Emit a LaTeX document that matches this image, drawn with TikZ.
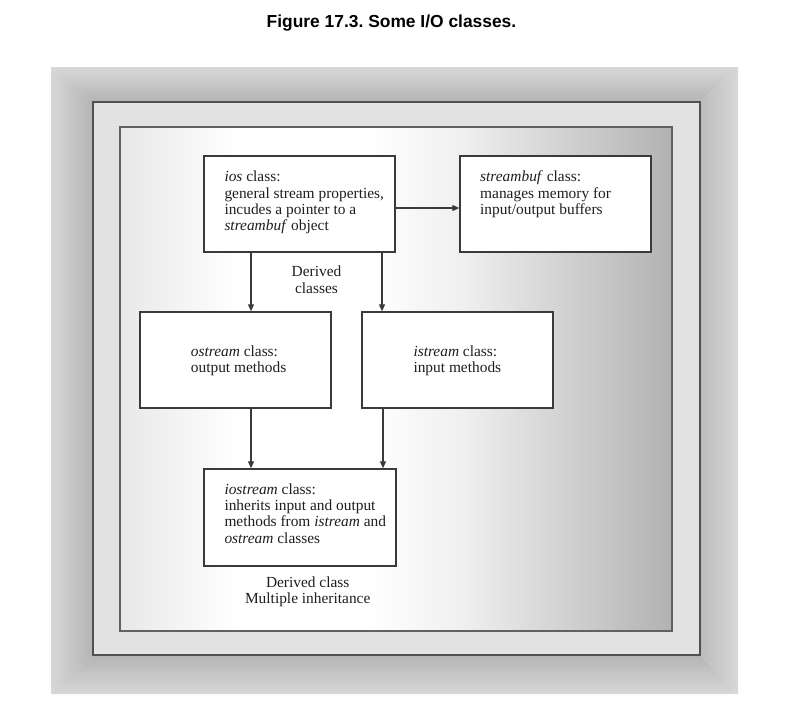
\documentclass[tikz,border=0pt]{standalone}
\usepackage{fontspec}
\setmainfont{Liberation Serif}
\newfontfamily\titlefont{Liberation Sans}
\usetikzlibrary{arrows.meta}
\frenchspacing
\definecolor{bandlight}{HTML}{D8D8D8}
\definecolor{banddark}{HTML}{B4B4B4}
\definecolor{midpanel}{HTML}{E2E2E2}
\definecolor{panelleft}{HTML}{E8E8E8}
\definecolor{panelright}{HTML}{B2B2B2}
\definecolor{edgegrey}{HTML}{505050}
\definecolor{boxline}{HTML}{3A3A3A}
\definecolor{inktext}{HTML}{1E1E1E}
\pgfdeclarehorizontalshading{panelshade}{100bp}{color(0bp)=(panelleft); color(25bp)=(panelleft); color(35.5bp)=(white); color(47.5bp)=(white); color(56bp)=(white!80!panelright); color(75bp)=(panelright); color(100bp)=(panelright)}
\tikzset{
  classbox/.style={draw=boxline, line width=1.4pt, fill=white, minimum width=191pt, minimum height=96pt, inner sep=0pt},
  boxtext/.style={anchor=base west, inner sep=0pt, align=left, text=inktext, font=\fontsize{15.4}{16.4}\selectfont},
  ctext/.style={anchor=base, inner sep=0pt, align=center, text=inktext, font=\fontsize{15.4}{16.6}\selectfont},
  arr/.style={draw=boxline, line width=1.1pt, -{Triangle[length=7pt,width=6pt]}}
}
\begin{document}
\begin{tikzpicture}[x=1pt,y=-1pt]
\useasboundingbox (0,0) rectangle (785,710);
\fill[white] (0,0) rectangle (785,710);
% title
\node[anchor=base, inner sep=0pt, font=\titlefont\bfseries\fontsize{17.4}{20}\selectfont] (title) at (391.5,27) {Figure 17.3. Some I/O classes.};
% bevelled outer band
\shade[top color=bandlight, bottom color=banddark] (51,67) -- (738,67) -- (700,102) -- (93,102) -- cycle;
\shade[top color=banddark, bottom color=bandlight] (93,655) -- (700,655) -- (738,694) -- (51,694) -- cycle;
\shade[left color=bandlight, right color=banddark] (51,67) -- (93,102) -- (93,655) -- (51,694) -- cycle;
\shade[left color=banddark!80!bandlight, right color=bandlight] (700,102) -- (738,67) -- (738,694) -- (700,655) -- cycle;
% middle panel
\filldraw[fill=midpanel, draw=edgegrey, line width=1.6pt] (93,102) rectangle (700,655);
% inner panel
\shade[shading=panelshade] (120,127) rectangle (672,631);
\draw[draw=edgegrey!90!white, line width=1.4pt] (120,127) rectangle (672,631);
% class boxes
\node[classbox] (ios) at (299.5,204) {};
\node[classbox] (streambuf) at (555.5,204) {};
\node[classbox] (ostream) at (235.5,360) {};
\node[classbox] (istream) at (457.5,360) {};
\node[classbox, minimum width=192pt, minimum height=97pt] (iostream) at (300,517.5) {};
% box texts (anchor at baseline of last line)
\node[boxtext] (iostxt) at (224.3,230.9) {\textit{ios} class:\\general stream properties,\\incudes a pointer to a\\\textit{streambuf} object};
\node[boxtext] (sbtxt) at (480,214.5) {\textit{streambuf} class:\\manages memory for\\input/output buffers};
\node[boxtext] (ostxt) at (190.7,372.4) {\textit{ostream} class:\\output methods};
\node[boxtext] (istxt) at (413.3,372.4) {\textit{istream} class:\\input methods};
\node[boxtext] (iostreamtxt) at (224.3,543.2) {\textit{iostream} class:\\inherits input and output\\methods from \textit{istream} and\\\textit{ostream} classes};
% free labels
\node[ctext] (derived) at (316.5,293.3) {Derived\\classes};
\node[ctext] (multi) at (307.7,603.6) {Derived class\\Multiple inheritance};
% connectors
\draw[arr] ([yshift=-4pt]ios.east) -- ([yshift=-4pt]streambuf.west);
\draw[arr] ([xshift=-48.5pt]ios.south) -- ([xshift=15.5pt]ostream.north);
\draw[arr] ([xshift=82.5pt]ios.south) -- ([xshift=-75.5pt]istream.north);
\draw[arr] ([xshift=15.5pt]ostream.south) -- ([xshift=-49pt]iostream.north);
\draw[arr] ([xshift=-74.5pt]istream.south) -- ([xshift=83pt]iostream.north);
\end{tikzpicture}
\end{document}
